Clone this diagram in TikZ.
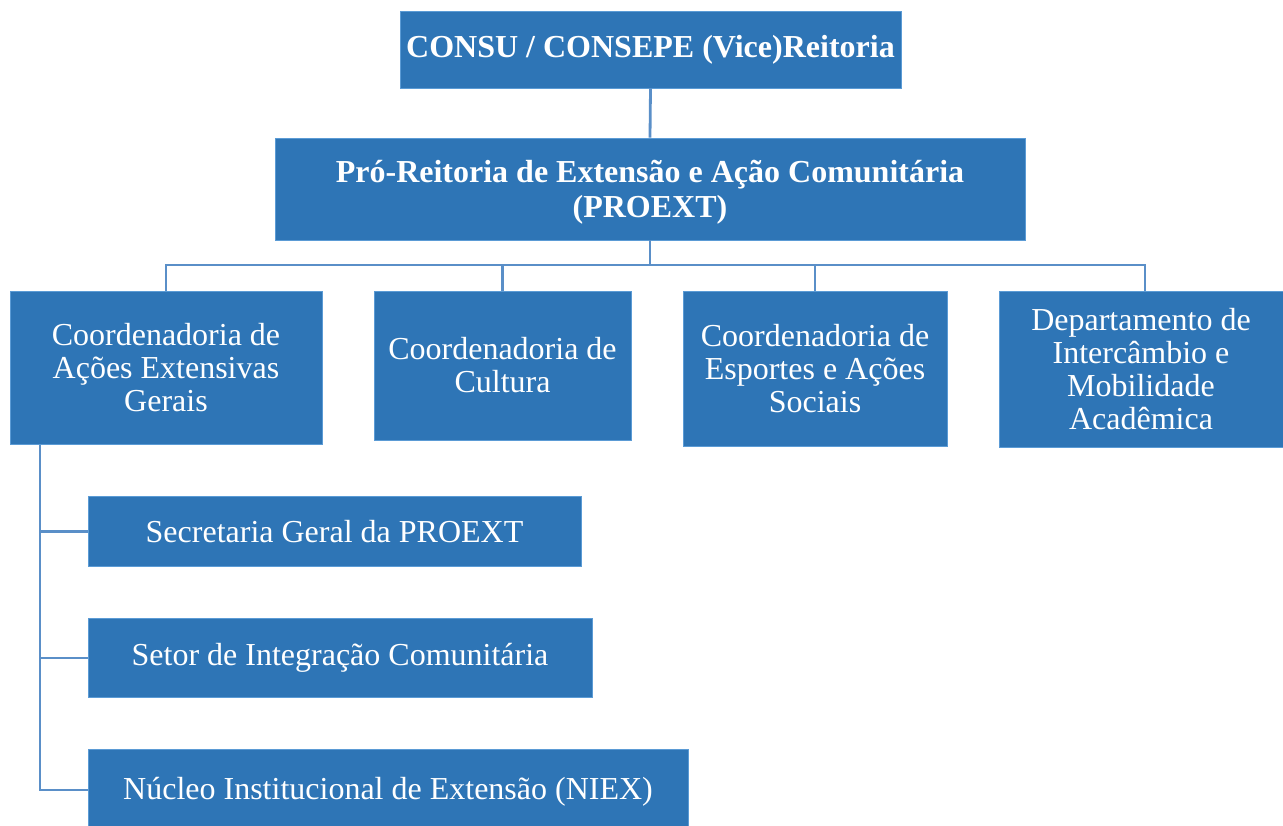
\documentclass[tikz,border=0pt]{standalone}
\usepackage{fontspec}
\setmainfont{Liberation Serif}
\definecolor{boxblue}{HTML}{2E75B6}
\definecolor{edgeblue}{HTML}{5B9BD5}
\definecolor{lineblue}{HTML}{5A8FC8}
\tikzset{
  box/.style={fill=boxblue, draw=edgeblue, line width=0.8pt, text=white, align=center, inner sep=2pt,
    font=\fontsize{32}{33}\selectfont},
  boldbox/.style={box, font=\fontsize{32}{35}\selectfont\bfseries},
  conn/.style={draw=lineblue, line width=2.8pt}
}
\begin{document}
\begin{tikzpicture}[x=1pt,y=-1pt]
\useasboundingbox (0,0) rectangle (1283,825);
\node[boldbox, minimum width=501pt, minimum height=77pt] (top) at (650.5,49.5) {CONSU / CONSEPE (Vice)Reitoria};
\node[boldbox, minimum width=750pt, minimum height=102pt] (proext) at (650,189) {};
\node[text=white, align=center, font=\fontsize{32}{35}\selectfont\bfseries] (proextlabel) at (650,192) {Pró-Reitoria de Extensão e Ação Comunitária\\(PROEXT)};
\node[box, minimum width=312pt, minimum height=153pt] (A) at (166,367.5) {Coordenadoria de\\Ações Extensivas\\Gerais};
\node[box, minimum width=257pt, minimum height=149pt] (B) at (502.5,365.5) {Coordenadoria de\\Cultura};
\node[box, minimum width=264pt, minimum height=155pt] (C) at (815,368.5) {Coordenadoria de\\Esportes e Ações\\Sociais};
\node[box, minimum width=284pt, minimum height=156pt] (D) at (1141,369) {Departamento de\\Intercâmbio e\\Mobilidade\\Acadêmica};
\node[box, minimum width=493pt, minimum height=70pt] (S1) at (334.5,531.5) {Secretaria Geral da PROEXT};
\node[box, minimum width=504pt, minimum height=79pt] (S2) at (340,658) {Setor de Integração Comunitária};
\node[box, minimum width=600pt, minimum height=86pt] (S3) at (388,792) {Núcleo Institucional de Extensão (NIEX)};

\coordinate (bus) at (650,265);
\coordinate (busL) at (166,265);
\coordinate (busR) at (1145,265);
\coordinate (dtop) at (1145,291);
\coordinate (spine) at (40,445);
\coordinate (b3) at (40,790);
\coordinate (b3e) at (88,790);

\draw[conn] (top.south) -- (proext.north);
\draw[conn] (proext.south) -- (bus);
\draw[conn] (A.north) -- (busL) -- (busR) -- (dtop);
\draw[conn] (bus -| B.north) -- (B.north);
\draw[conn] (bus -| C.north) -- (C.north);
\draw[conn] (spine) -- (b3) -- (b3e);
\draw[conn] (spine |- S1.west) -- (S1.west);
\draw[conn] (spine |- S2.west) -- (S2.west);
\end{tikzpicture}
\end{document}
